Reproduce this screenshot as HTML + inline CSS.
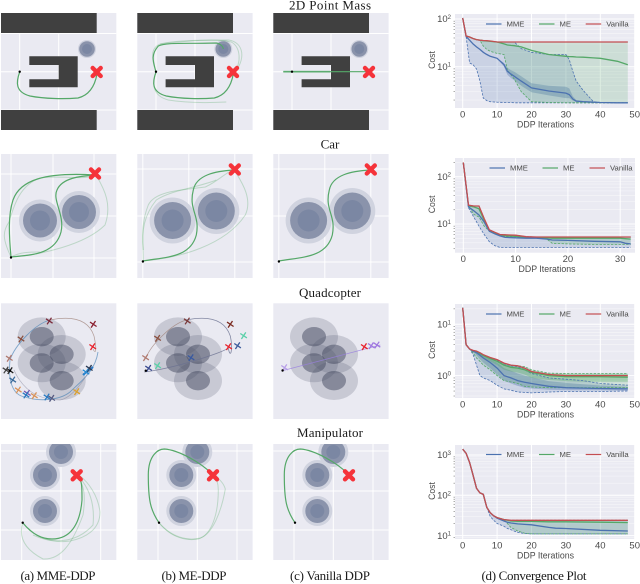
<!DOCTYPE html>
<html lang="en">
<head>
<meta charset="utf-8">
<title>DDP trajectories and convergence plots</title>
<style>
html,body{margin:0;padding:0;background:#fff}
#figure{display:block;width:640px;height:584px;filter:blur(.35px)}
.cap{font-family:"Liberation Serif",serif;font-size:13px;fill:#1a1a1a;text-anchor:middle}
.tick{font-family:"Liberation Sans",sans-serif;font-size:9.5px;fill:#4a4a4a}
.lab{font-family:"Liberation Sans",sans-serif;font-size:9px;fill:#4a4a4a;text-anchor:middle}
.leg{font-family:"Liberation Sans",sans-serif;font-size:7.7px;fill:#4a4a4a}
.main{fill:none;stroke:#55a868;stroke-width:1.2}
.alt{fill:none;stroke:#55a868;stroke-width:1;opacity:.3}
</style>
</head>
<body>
<svg id="figure" xmlns="http://www.w3.org/2000/svg" width="640" height="584" viewBox="0 0 640 584">
<rect width="640" height="584" fill="#fff"/>
<g>
<text class="cap" x="330" y="9.5" textLength="82">2D Point Mass</text>
<text class="cap" x="330" y="148.5">Car</text>
<text class="cap" x="330" y="297" textLength="62">Quadcopter</text>
<text class="cap" x="330" y="437" textLength="66">Manipulator</text>
<text class="cap" x="58" y="580" textLength="75">(a) MME-DDP</text>
<text class="cap" x="194" y="580" textLength="65">(b) ME-DDP</text>
<text class="cap" x="330" y="580" textLength="80">(c) Vanilla DDP</text>
<text class="cap" x="534" y="580" textLength="105">(d) Convergence Plot</text>
</g>
<g id="panels"></g>
<g id="charts"></g>
</svg>
<script>
// ---- Chart data ----
const chartSeriesNames = ['MME', 'ME', 'Vanilla'];

const pointIters = [0,1,2,3,4,5,6,7,8,10,12,13,14,15,17,20,25,30,31,32,33,35,38,40,45,48];
const pointVanilla = [105,44,42,39,37,36,35.5,35,34.5,33,33,33,33,33,33,33,33,33,33,33,33,33,33,33,33,33];
const pointMme = [105,43,36,30,26,23,20,18,16.5,15,11,8,7,6.3,5,3.6,3.1,2.8,2.6,2.1,1.9,1.85,1.8,1.78,1.75,1.75];
const pointMmeLo = [105,43,12,11,9,5,2.2,1.95,1.85,1.8,1.78,1.78,1.78,1.75,1.75,1.75,1.75,1.75,1.75,1.75,1.75,1.75,1.75,1.75,1.75,1.75];
const pointMmeHi = [105,44,42,39,37,36,35.5,35,34.5,33,33,33,33,33,24,20,18,18,14,8,5,3.2,1.85,1.78,1.75,1.75];
const pointMmeStdLo = [105,43,36,30,26,23,20,18,16.5,15,10,6.8,5.8,5.2,4,2.9,2.5,2.2,2.2,1.95,1.85,1.82,1.78,1.76,1.75,1.75];
const pointMmeStdHi = [105,43,36,30,26,23,20,18,16.5,15,12,9.5,8.5,7.8,6.3,4.5,4,3.8,3.5,2.4,2,1.9,1.82,1.8,1.75,1.75];
const pointMe = [105,44,42,39,37,36,35,34.5,34,33,30,28.5,28,27.5,26,22,18,16.5,16.3,16.2,16,15.8,15.3,15,13,11];
const pointMeLo = [105,44,42,39,37,36,27,23,21,19,18,8.5,6.8,5.5,3,1.85,1.78,1.75,1.75,1.75,1.75,1.75,1.75,1.75,1.75,1.75];
const pointMeHi = [105,44,42,39,37,36,35.5,35,34.5,33,33,33,33,33,33,33,33,33,33,33,33,33,33,33,33,33];

const carIters = [0,1,2,3,4,5,6,7,8,10,12,14,16,17,20,25,30,31,32];
const carVanilla = [200,25,24,24,13,7.5,6.7,6,5.9,5.8,5.4,5.3,5.3,5.3,5.3,5.3,5.3,5.3,5.3];
const carMe = [200,24,23,21,12,7.2,6.5,5.8,5.6,5.5,5.2,5.1,5.1,5,5,5,5,4.9,4.8];
const carMeLo = [200,24,16,14,9,7,6.3,5.7,5.4,5.3,5.1,5,4.8,3.9,3.8,3.7,3.7,3.7,3.7];
const carMeHi = [200,25,24,24,13,7.5,6.7,6,5.9,5.8,5.4,5.3,5.3,5.3,5.3,5.3,5.3,5.3,5.3];
const carMme = [200,23,19,15.5,11,7,6.2,5.6,5.2,5.1,5,5,4.8,4.6,4.5,4.3,4.2,3.9,3.8];
const carMmeLo = [200,22,14,9,6,4.2,3.5,3.2,3.2,3.2,3.2,3.2,3.2,3.2,3.2,3.2,3.2,3.2,3.2];
const carMmeHi = [200,25,24,24,13,7.5,6.7,6,5.9,5.8,5.4,5.3,5.3,5.3,5.3,5.3,5.3,5.3,5.3];

const quadIters = [0,1,2,3,4,5,6,8,10,12,14,16,18,20,25,30,35,40,48];
const quadVanilla = [21,4,3.3,3.1,3,2.8,2.55,2.25,2.05,1.75,1.6,1.55,1.4,1.2,1.05,1,1,1,1];
const quadMe = [21,4,3.3,3,2.9,2.7,2.45,2.15,1.9,1.6,1.45,1.4,1.3,1.15,1,.95,.95,.95,.93];
const quadMeLo = [21,4,3.3,2.8,2.2,1.9,1.6,1.3,1,.8,.75,.7,.62,.6,.58,.58,.58,.58,.58];
const quadMeHi = [21,4,3.3,3.1,3,2.8,2.55,2.25,2.05,1.75,1.6,1.55,1.5,1.3,1.12,1.1,1.1,1.1,1.1];
const quadMeStdLo = [21,4,3.3,2.95,2.7,2.5,2.2,1.9,1.6,1.3,1.2,1.15,1.05,.9,.82,.78,.76,.76,.76];
const quadMeStdHi = [21,4,3.3,3.1,3,2.8,2.55,2.25,2.05,1.75,1.6,1.55,1.45,1.25,1.1,1.08,1.08,1.08,1.08];
const quadMme = [21,4,3.3,3,2.8,2.5,2.2,1.8,1.4,1,.9,.8,.74,.7,.62,.58,.57,.56,.55];
const quadMmeLo = [21,4,3.3,2.6,1.6,1,.9,.8,.65,.55,.52,.48,.47,.46,.48,.49,.49,.49,.5];
const quadMmeHi = [21,4,3.3,3.1,3,2.8,2.55,2.25,2,1.7,1.55,1.5,1.3,1.1,.9,.85,.8,.7,.65];
const quadMmeStdLo = [21,4,3.3,2.9,2.5,2.1,1.8,1.4,1.05,.8,.7,.63,.58,.56,.53,.52,.52,.52,.51];
const quadMmeStdHi = [21,4,3.3,3.05,2.9,2.7,2.45,2.1,1.8,1.4,1.25,1.1,1,.93,.78,.72,.68,.64,.6];

const armIters = [0,1,2,3,4,5,6,7,8,9,10,12,13,14,16,18,20,25,27,30,40,48];
const armVanilla = [1400,1100,650,320,150,115,105,50,37,31,28,25,24.5,24,24,24,24,24,24,24,24,24];
const armMe = [1400,1100,650,320,150,115,105,50,37,31,28,25,24,23,22.5,22.5,22.5,22,22,22,21.5,21];
const armMeLo = [1400,1100,650,320,150,115,105,50,37,31,28,25,20,16,13,11.5,11,11,11,11,11,11];
const armMeHi = [1400,1100,650,320,150,115,105,50,37,31,28,25,24.5,24,24,24,24,24,24,24,24,24];
const armMme = [1400,1100,650,320,150,115,105,50,37,31,27,23,21.5,20.5,19.5,19,18.5,16,15.3,15,13.5,13];
const armMmeLo = [1400,1100,650,320,150,115,105,50,30,24,20,17,15,14,12,11.3,11,11,11,11,11,11];
const armMmeHi = [1400,1100,650,320,150,115,105,50,37,31,28,25,24.5,24,24,24,24,24,24,24,24,24];

const xTicksLong = [0,10,20,30,40,50];
const xTicksShort = [0,10,20,30];
const pointDecades = [1,2];
const carDecades = [1,2];
const quadDecades = [0,1];
const armDecades = [1,2,3];

const NS = 'http://www.w3.org/2000/svg';
const BLUE = '#4c72b0', GREEN = '#55a868', RED = '#c44e52';

function mk(parent, tag, attrs, text) {
  const el = document.createElementNS(NS, tag);
  for (const k in attrs) el.setAttribute(k, attrs[k]);
  if (text !== undefined) el.textContent = text;
  parent.appendChild(el);
  return el;
}

// ---- Convergence charts ----
function drawChart(name, frame, iters, series, decades, xTicks, legendX) {
  const xScale = v => frame.x0 + v * frame.xUnit;
  const yScale = v => frame.yTop + (frame.topExp - Math.log10(v)) * frame.decade;
  const g = mk(document.getElementById('charts'), 'g', {});
  
  
  const back = mk(g, 'rect', {x: frame.l, y: frame.t, width: frame.r - frame.l, height: frame.b - frame.t, fill: '#eaeaf2'});
  
  
  const clipId = name + '-clip';
  const clip = mk(g, 'clipPath', {id: clipId});
  mk(clip, 'rect', {x: frame.l, y: frame.t, width: frame.r - frame.l, height: frame.b - frame.t});

  // minor and major horizontal grid
  const minExp = decades[0] - 1, maxExp = decades[decades.length - 1];
  for (let e = minExp; e <= maxExp; e++) {
    for (let m = 2; m <= 9; m++) {
      const yy = yScale(m * Math.pow(10, e));
      if (yy < frame.t || yy > frame.b) continue;
      mk(g, 'line', {x1: frame.l, x2: frame.r, y1: yy, y2: yy, stroke: '#fff', 'stroke-width': .35});
      mk(g, 'line', {x1: frame.l - 1.5, x2: frame.l, y1: yy, y2: yy, stroke: '#777', 'stroke-width': .6});
    }
  }
  decades.forEach(e => {
    const yy = yScale(Math.pow(10, e));
    mk(g, 'line', {x1: frame.l, x2: frame.r, y1: yy, y2: yy, stroke: '#fff', 'stroke-width': 1});
    const t = mk(g, 'text', {class: 'tick', x: frame.l - 4, y: yy + 3.2, 'text-anchor': 'end'}, '10');
    
    
    mk(t, 'tspan', {dy: -3.2, 'font-size': 6}, String(e));
  });
  xTicks.forEach(v => {
    const xx = xScale(v);
    mk(g, 'line', {x1: xx, x2: xx, y1: frame.t, y2: frame.b, stroke: '#fff', 'stroke-width': 1});
    const t = mk(g, 'text', {class: 'tick', x: xx, y: frame.b + 9.5, 'text-anchor': 'middle'}, String(v));
    
    
  });

  const marks = mk(g, 'g', {'clip-path': 'url(#' + clipId + ')'});
  const linePts = arr => arr.map((v, i) => xScale(iters[i]).toFixed(1) + ',' + yScale(v).toFixed(1)).join(' ');
  const bandPts = (lo, hi) => linePts(lo) + ' ' + hi.map((v, i) => [xScale(iters[i]).toFixed(1), yScale(v).toFixed(1)].join(',')).reverse().join(' ');

  series.forEach(s => {
    if (s.lo && s.hi) {
      const band = mk(marks, 'polygon', {points: bandPts(s.lo, s.hi), fill: s.color, 'fill-opacity': .2});
      
      
    }
    if (s.stdLo && s.stdHi) {
      const band = mk(marks, 'polygon', {points: bandPts(s.stdLo, s.stdHi), fill: s.color, 'fill-opacity': .35});
      
      
    }
  });
  series.forEach(s => {
    [s.lo, s.hi].forEach(arr => {
      if (!arr) return;
      const d = mk(marks, 'polyline', {points: linePts(arr), fill: 'none', stroke: s.color, 'stroke-width': .8, 'stroke-dasharray': '2.4 1.4'});
      
      
    });
  });
  [series[1], series[0], series[2]].forEach(s => {
    const l = mk(marks, 'polyline', {points: linePts(s.mean), fill: 'none', stroke: s.color, 'stroke-width': 1.3});
    
    
  });

  // legend
  const legY = frame.t + frame.legendDy;
  series.forEach((s, i) => {
    const lx = legendX[i];
    const entry = mk(g, 'g', {});
    
    
    mk(entry, 'line', {x1: lx, x2: lx + 15.5, y1: legY, y2: legY, stroke: s.color, 'stroke-width': 1.2});
    mk(entry, 'text', {class: 'leg', x: lx + 20.5, y: legY + 2.7}, chartSeriesNames[i]);
  });

  const xl = mk(g, 'text', {class: 'lab', x: frame.xLabelX, y: frame.b + 19.5, textLength: 57, lengthAdjust: 'spacingAndGlyphs'}, 'DDP Iterations');
  
  
  const cy = (frame.t + frame.b) / 2 - 1;
  const yl = mk(g, 'text', {class: 'lab', x: 432, y: cy + 3, transform: 'rotate(-90 432 ' + cy + ')', textLength: 17.7, lengthAdjust: 'spacingAndGlyphs'}, 'Cost');
  
  
}

drawChart('chart-point-mass',
  {l: 455, r: 635, t: 14, b: 108, x0: 462.7, xUnit: 3.44, yTop: 19, topExp: 2, decade: 47.7, legendDy: 10, xLabelX: 545.5},
  pointIters,
  [{key: 'mme', color: BLUE, mean: pointMme, lo: pointMmeLo, hi: pointMmeHi, stdLo: pointMmeStdLo, stdHi: pointMmeStdHi},
   {key: 'me', color: GREEN, mean: pointMe, lo: pointMeLo, hi: pointMeHi},
   {key: 'vanilla', color: RED, mean: pointVanilla}],
  pointDecades, xTicksLong, [486, 539, 585.7]);

drawChart('chart-car',
  {l: 455, r: 635, t: 158, b: 252.7, x0: 463.3, xUnit: 5.23, yTop: 176.7, topExp: 2, decade: 47.3, legendDy: 10, xLabelX: 547},
  carIters,
  [{key: 'mme', color: BLUE, mean: carMme, lo: carMmeLo, hi: carMmeHi},
   {key: 'me', color: GREEN, mean: carMe, lo: carMeLo, hi: carMeHi},
   {key: 'vanilla', color: RED, mean: carVanilla}],
  carDecades, xTicksShort, [489.5, 542.5, 589.5]);

drawChart('chart-quadcopter',
  {l: 455, r: 635, t: 304, b: 398, x0: 462.7, xUnit: 3.44, yTop: 324.3, topExp: 1, decade: 51.3, legendDy: 10, xLabelX: 545.5},
  quadIters,
  [{key: 'mme', color: BLUE, mean: quadMme, lo: quadMmeLo, hi: quadMmeHi, stdLo: quadMmeStdLo, stdHi: quadMmeStdHi},
   {key: 'me', color: GREEN, mean: quadMe, lo: quadMeLo, hi: quadMeHi, stdLo: quadMeStdLo, stdHi: quadMeStdHi},
   {key: 'vanilla', color: RED, mean: quadVanilla}],
  quadDecades, xTicksLong, [486, 539, 585.7]);

drawChart('chart-manipulator',
  {l: 455, r: 635, t: 445, b: 539, x0: 462.7, xUnit: 3.44, yTop: 455, topExp: 3, decade: 40.3, legendDy: 9.5, xLabelX: 545.5},
  armIters,
  [{key: 'mme', color: BLUE, mean: armMme, lo: armMmeLo, hi: armMmeHi},
   {key: 'me', color: GREEN, mean: armMe, lo: armMeLo, hi: armMeHi},
   {key: 'vanilla', color: RED, mean: armVanilla}],
  armDecades, xTicksLong, [486, 539, 585.7]);

// ---- Trajectory panels ----
const panels = document.getElementById('panels');
const methods = ['mme', 'me', 'vanilla'];
const pathsRow1 = [
  {main: ['M19.7 72C16 82 15 92 30 96C45 99 65 99 78 98C90 95 95 85 97 74'], alt: []},
  {main: ['M19.7 72C17 62 14 55 22 46C30 42 50 44 80 43C85 44 87 47 87 49', 'M19.7 72C16 82 15 92 30 96C45 99 65 99 78 98C90 95 95 85 97 74'],
   alt: ['M19.7 72C15 58 14 48 24 44C40 40 70 40 92 40C108 42 110 60 97 74', 'M20 72C15 85 17 96 32 100C50 103 70 103 90 102', 'M24 44C50 41 80 38 95 42C104 47 106 62 97 74']},
  {main: ['M11 71.7L96 71.7'], alt: [], thick: 'M11 71.7L58 71.7'}
];
const pathsRow2 = [
  {main: ['M11 257C9 235 8 215 13 200C20 180 45 172 95 175', 'M11 257C30 255 55 255 61 232C65 215 52 200 57 190C62 178 80 176 95 175'],
   alt: ['M11 257C40 255 85 245 105 225C112 205 105 190 96 175', 'M11 257C3 240 2 232 9 222C14 205 20 185 40 178C55 175 80 180 93 176', 'M11 257C20 252 30 252 40 252']},
  {main: ['M6.6 261C29 257 54 258 60 235C64 215 52 210 57 190C60 175 79 171 98 170'],
   alt: ['M6.6 261C44 258 89 245 109 215C117 198 104 180 98 170', 'M7 261C7 240 4 225 12 205C19 190 49 190 69 187C84 180 89 172 98 170', 'M7 250C5 230 8 215 20 200C35 190 60 188 80 180']},
  {main: ['M6.6 261C29 257 54 258 60 235C64 215 52 210 57 190C60 175 79 171 98 170'], alt: []}
];
const pathsRow4 = [
  {main: ['M22.7 522.7C33 535 42 539 52 539C70 539 80 525 82 500C82 485 82 480 77 475'],
   alt: ['M22.7 522.7C19 535 22 548 43 559C60 560 72 545 83 515C86 495 84 485 77 475', 'M28 528C40 540 55 543 70 541C85 538 100 530 100 512C98 495 88 482 80 476', 'M33 535C50 543 75 545 93 525C95 505 90 490 80 478']},
  {main: ['M22.7 522.7C14 510 12 500 12 475C12 455 22 449 28 449C42 450 64 462 77 475'],
   alt: ['M22.7 522.7C35 538 50 541 62 539C75 535 82 515 82 490C82 482 80 478 77 475', 'M23 523C36 538 52 541 64 538C76 534 85 512 89 489C87 482 82 478 77 475']},
  {main: ['M22.7 522.7C14 510 12 500 12 475C12 455 22 449 28 449C42 450 64 462 77 475'], alt: []}
];
const quadMarkers = [
  [[49.3,36,'#7a2a3a'],[93.3,39.3,'#8a1f2f'],[92.7,61.7,'#e8202a'],[21,54,'#8a5040'],[9.3,73.3,'#b07a70'],[10,85.7,'#222'],[12.7,95,'#38699a'],[18.3,105,'#d8935a'],[27.3,108.3,'#7a55b0'],[34.3,110.7,'#d8935a'],[51.7,113.3,'#555a80'],[76.7,106.7,'#dba02e'],[89.3,83.3,'#2a3a55'],[86,87,'#2a8ad0'],[26,110,'#2a7ac0'],[47,112,'#2a7ac0'],[6,85,'#444']],
  [[51,36,'#7a3a3a'],[94,39.3,'#7a2a1f'],[92.3,61.7,'#e8202a'],[101.3,60.7,'#3a5a9a'],[107.3,50.7,'#5ad0a8'],[21.3,53.3,'#8a5040'],[9.3,72.7,'#b07a70'],[12.3,83.3,'#3a4a90'],[21.3,80.7,'#5ad0a8'],[54.7,72.7,'#3a5aa0']],
  [[12.3,82.7,'#b8a0e8'],[92,61.7,'#e8202a'],[99,60.7,'#a078e0'],[104.7,60,'#a078e0']]
];

function panelGroup(row, i) {
  const g = mk(panels, 'g', {transform: 'translate(' + [0, 136.3, 272.3][i] + ' 0)'});
  
  
  return g;
}
function panelBack(g, y, h) {
  mk(g, 'rect', {x: 1, y: y, width: 115.3, height: h, fill: '#eaeaf2'});
}
function grid(g, xs, ys, y0, y1) {
  xs.forEach(x => mk(g, 'line', {x1: x, x2: x, y1: y0, y2: y1, stroke: '#fff', 'stroke-width': 1}));
  ys.forEach(y => mk(g, 'line', {x1: 1, x2: 116.3, y1: y, y2: y, stroke: '#fff', 'stroke-width': 1}));
}
function obstacle(g, cx, cy, r1, r2, r3) {
  mk(g, 'circle', {cx: cx, cy: cy, r: r1, fill: '#d0d3df'});
  mk(g, 'circle', {cx: cx, cy: cy, r: r2, fill: '#8a93ab'});
  mk(g, 'circle', {cx: cx, cy: cy, r: r3, fill: '#7b87a3'});
}
function goal(g, x, y) {
  const m = mk(g, 'g', {});
  
  
  mk(m, 'path', {d: 'M' + (x - 4) + ' ' + (y - 4) + 'L' + (x + 4) + ' ' + (y + 4) + 'M' + (x + 4) + ' ' + (y - 4) + 'L' + (x - 4) + ' ' + (y + 4), stroke: '#f5333a', 'stroke-width': 4.4, fill: 'none', 'stroke-linecap': 'round'});
}
function start(g, x, y) {
  const m = mk(g, 'circle', {cx: x, cy: y, r: 1.2, fill: '#000'});
  
  
}
function paths(g, set) {
  set.alt.forEach(d => mk(g, 'path', {d: d, class: 'alt'}));
  if (set.thick) mk(g, 'path', {d: set.thick, fill: 'none', stroke: '#55a868', 'stroke-width': 1.8, opacity: .6});
  set.main.forEach(d => mk(g, 'path', {d: d, class: 'main'}));
}

for (let i = 0; i < 3; i++) {
  // Row 1: 2D point mass
  let g = panelGroup('point-mass', i);
  panelBack(g, 13, 117);
  grid(g, [19.7, 58.7], [33.5, 71.7, 110], 13, 130);
  mk(g, 'rect', {x: 1, y: 13, width: 95.7, height: 20, fill: '#404040'});
  mk(g, 'rect', {x: 1, y: 110, width: 95.7, height: 20, fill: '#404040'});
  mk(g, 'path', {d: 'M29.3 56.3H77.7V87.3H29.3V79.3H58.7V65H29.3Z', fill: '#404040'});
  obstacle(g, 87, 49, 9, 7.8, 5);
  paths(g, pathsRow1[i]);
  goal(g, 96.7, 72);
  start(g, 19.7, 71.7);

  // Row 2: car
  g = panelGroup('car', i);
  panelBack(g, 154, 124);
  if (i === 0) {
    grid(g, [11, 53, 94], [174, 216, 258], 154, 278);
    obstacle(g, 40, 220.5, 21, 17, 10);
    obstacle(g, 79, 212, 21, 17, 10);
    paths(g, pathsRow2[0]);
    goal(g, 95, 173.5);
    start(g, 11, 257.5);
  } else {
    grid(g, [6.5, 52.5, 98.5], [169, 216, 262], 154, 278);
    obstacle(g, 36.3, 220.5, 23, 18.5, 11);
    obstacle(g, 80, 211, 23, 18.5, 11);
    paths(g, pathsRow2[i]);
    goal(g, 98.5, 169.5);
    start(g, 6.6, 261.5);
  }

  // Row 3: quadcopter
  g = panelGroup('quadcopter', i);
  panelBack(g, 303.3, 115.7);
  [[41.7, 336.7], [61.7, 354.3], [41.7, 363], [61.7, 380.7]].forEach(c => {
    mk(g, 'ellipse', {cx: c[0], cy: c[1], rx: 24, ry: 19.3, fill: '#4a5068', 'fill-opacity': .21});
  });
  [[41.7, 336.7], [61.7, 354.3], [41.7, 363], [61.7, 380.7]].forEach(c => {
    mk(g, 'ellipse', {cx: c[0], cy: c[1], rx: 12, ry: 9.7, fill: '#434a60', 'fill-opacity': .5});
  });
  if (i === 0) {
    mk(g, 'path', {d: 'M50 320C70 316 88 318 94 336C97 350 96 355 93 349', fill: 'none', stroke: '#9a7a70', 'stroke-width': .7, opacity: .7});
    mk(g, 'path', {d: 'M50 320C35 324 15 345 10 360C8 380 12 395 25 397C40 402 60 400 70 392C80 382 95 372 98 352', fill: 'none', stroke: '#3a7ab0', 'stroke-width': .9, opacity: .6});
    mk(g, 'path', {d: 'M83 375C86 372 90 370 93 367', fill: 'none', stroke: '#2a7ac8', 'stroke-width': 2});
    mk(g, 'path', {d: 'M14 370C25 395 45 400 60 400C72 398 85 380 92 365', fill: 'none', stroke: '#8a8aa0', 'stroke-width': .7, opacity: .6});
  } else if (i === 1) {
    mk(g, 'path', {d: 'M50 320C70 316 88 318 94 336C97 350 94 360 92 348C88 352 40 368 8 372', fill: 'none', stroke: '#6a7090', 'stroke-width': .8, opacity: .8});
    mk(g, 'path', {d: 'M50 320C35 324 15 345 10 357', fill: 'none', stroke: '#9a7a70', 'stroke-width': .7, opacity: .7});
  } else {
    mk(g, 'path', {d: 'M9 371L108 345', fill: 'none', stroke: '#9a80e0', 'stroke-width': .8, opacity: .8});
  }
  quadMarkers[i].forEach(q => {
    const x = q[0], y = q[1] + 285;
    const m = mk(g, 'path', {d: 'M' + (x - 3.3) + ' ' + (y - 2.2) + 'L' + (x + 3.3) + ' ' + (y + 2.2) + 'M' + (x + 2.2) + ' ' + (y - 3.3) + 'L' + (x - 2.2) + ' ' + (y + 3.3), stroke: q[2], 'stroke-width': 1.3, fill: 'none'});
    
    
  });
  start(g, i === 0 ? 10 : (i === 1 ? 9.5 : 10.3), i === 2 ? 370.5 : 370.7);

  // Row 4: manipulator
  g = panelGroup('manipulator', i);
  panelBack(g, 444, 116);
  grid(g, [21.7, 61, 100.7], [451, 491, 530], 444, 560);
  const clipM = mk(g, 'clipPath', {id: 'arm-clip-' + i});
  mk(clipM, 'rect', {x: 1, y: 444, width: 115.3, height: 116});
  const og = mk(g, 'g', {'clip-path': 'url(#arm-clip-' + i + ')'});
  obstacle(og, 61, 452, 15, 12, 7);
  obstacle(og, 45, 475, 15, 12, 7);
  obstacle(og, 45, 511, 15, 12, 7);
  paths(g, pathsRow4[i]);
  goal(g, 76.7, 475.3);
  start(g, 22.7, 522.7);
}
</script>
</body>
</html>
